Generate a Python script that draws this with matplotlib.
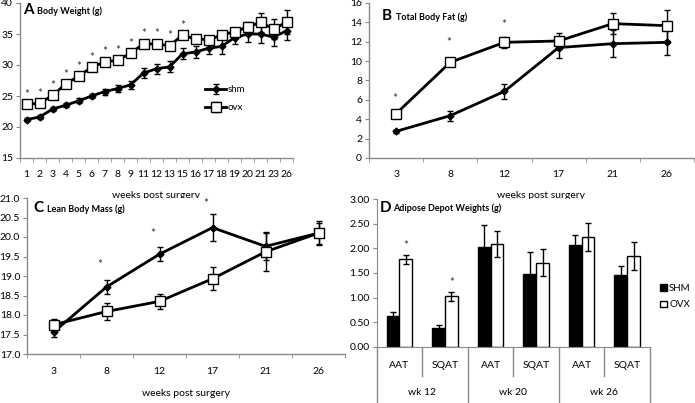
import numpy as np
import matplotlib.pyplot as plt
from matplotlib.transforms import offset_copy

plt.rcParams['font.family'] = ['Lato', 'DejaVu Sans']

# A: body weight
weeks_a = ['1', '2', '3', '4', '5', '6', '7', '8', '9', '11', '12', '13', '15', '16',
           '17', '18', '19', '20', '21', '23', '26']
shm_a = [21.2, 21.6, 22.9, 23.5, 24.2, 25.0, 25.7, 26.2, 26.8, 28.7, 29.4, 29.7, 31.8,
         32.1, 32.7, 33.0, 34.4, 35.0, 35.0, 34.5, 35.5]
shm_a_err = [0.2, 0.3, 0.3, 0.3, 0.4, 0.4, 0.5, 0.5, 0.6, 0.8, 0.8, 0.9, 0.9, 1.0,
             1.0, 1.2, 1.0, 1.3, 1.5, 1.4, 1.5]
ovx_a = [23.7, 23.8, 25.1, 26.9, 28.2, 29.6, 30.5, 30.75, 31.9, 33.4, 33.4, 33.1, 34.8,
         34.2, 34.1, 34.8, 35.4, 36.1, 36.9, 35.8, 36.9]
ovx_a_err = [0.3, 0.3, 0.4, 0.4, 0.4, 0.4, 0.4, 0.4, 0.4, 0.4, 0.4, 0.4, 0.4, 0.4,
             0.4, 0.5, 0.5, 0.8, 1.5, 1.6, 1.9]
stars_a = ['1', '2', '3', '4', '5', '6', '7', '8', '9', '11', '12', '13', '15']

# B / C: total body fat, lean mass
weeks_bc = ['3', '8', '12', '17', '21', '26']
shm_b = [2.75, 4.37, 6.88, 11.4, 11.8, 11.94]
shm_b_err = [0.15, 0.5, 0.75, 1.1, 1.4, 1.3]
ovx_b = [4.58, 9.88, 11.94, 12.08, 13.87, 13.66]
ovx_b_err = [0.1, 0.2, 0.55, 0.85, 1.1, 1.6]
stars_b = [6.1, 11.9, 13.8]

shm_c = [17.56, 18.72, 19.56, 20.24, 19.76, 20.1]
shm_c_err = [0.12, 0.18, 0.18, 0.35, 0.35, 0.27]
ovx_c = [17.75, 18.09, 18.35, 18.93, 19.62, 20.1]
ovx_c_err = [0.15, 0.22, 0.2, 0.3, 0.5, 0.3]
stars_c = [19.3, 20.1, 20.87]

# D: adipose depots
depots = ['AAT', 'SQAT', 'AAT', 'SQAT', 'AAT', 'SQAT']
depot_weeks = ['wk 12', 'wk 20', 'wk 26']
shm_d = [0.63, 0.38, 2.02, 1.48, 2.08, 1.46]
shm_d_err = [0.07, 0.07, 0.45, 0.44, 0.2, 0.19]
ovx_d = [1.78, 1.03, 2.09, 1.71, 2.23, 1.85]
ovx_d_err = [0.09, 0.09, 0.27, 0.27, 0.29, 0.29]
stars_d = [2.06, 1.3]

W, H = 695, 403
fig = plt.figure(figsize=(W / 100, H / 100), dpi=100)
grey = '#8a8a8a'


def px_axes(l, r, t, b):
    return fig.add_axes([l / W, 1 - b / H, (r - l) / W, (b - t) / H])


def style(ax, n):
    for s in ['top', 'right']:
        ax.spines[s].set_visible(False)
    for s in ['left', 'bottom']:
        ax.spines[s].set_color(grey)
        ax.spines[s].set_linewidth(1.0)
    ax.tick_params(axis='y', length=3, color=grey, labelsize=7.5, pad=2)
    ax.set_xlim(-0.5, n - 0.5)
    ax.set_xticks(np.arange(n))
    ax.set_xticks(np.arange(n + 1) - 0.5, minor=True)
    ax.tick_params(axis='x', which='major', length=0, labelsize=7.5, pad=9)
    ax.tick_params(axis='x', which='minor', length=3, color=grey)


def lines(ax, shm, shm_err, ovx, ovx_err, ms_sq=7):
    x = np.arange(len(shm))
    ax.errorbar(x, shm, yerr=shm_err, color='black', lw=2, marker='D', ms=3.5,
                capsize=2, elinewidth=1, capthick=1, label='shm', zorder=3)
    ax.errorbar(x, ovx, yerr=ovx_err, color='black', lw=2, marker='s', ms=ms_sq,
                mfc='white', mec='black', mew=1, capsize=2, elinewidth=1,
                capthick=1, label='ovx', zorder=4)


def title(ax, letter, text, x=0.03, y=0.97):
    ax.text(x, y, letter, transform=ax.transAxes, fontsize=11, fontweight='bold',
            va='top', ha='left')
    tr = offset_copy(ax.transAxes, fig=fig, x=14, y=-3, units='dots')
    ax.text(x, y, text, transform=tr, fontsize=6.5,
            fontweight='bold', va='top', ha='left')


def star(ax, x, y):
    ax.text(x, y, '*', ha='center', va='center', fontsize=8.5, color='#333333')


# ---- A
ax = px_axes(20, 293, 3, 158)
style(ax, len(weeks_a))
lines(ax, shm_a, shm_a_err, ovx_a, ovx_a_err)
ax.set_ylim(15, 40)
ax.set_yticks(range(15, 41, 5))
ax.set_xticklabels(weeks_a)
for w in stars_a:
    i = weeks_a.index(w)
    star(ax, i, ovx_a[i] + 1.6)
title(ax, 'A', 'Body Weight (g)', x=0.01, y=1.0)
ax.text(0.5, -0.245, 'weeks post surgery', transform=ax.transAxes, ha='center',
        va='center', fontsize=7.5)
ax.legend(loc='upper left', bbox_to_anchor=(0.66, 0.5), frameon=False, fontsize=7,
          handlelength=2.2, labelspacing=0.9, handletextpad=0.1, borderpad=0)

# ---- B
ax = px_axes(369, 694, 3, 158)
style(ax, len(weeks_bc))
lines(ax, shm_b, shm_b_err, ovx_b, ovx_b_err)
ax.set_ylim(0, 16)
ax.set_yticks(range(0, 17, 2))
ax.set_xticklabels(weeks_bc)
for i, v in enumerate(stars_b):
    star(ax, i - 0.02, v)
title(ax, 'B', 'Total Body Fat (g)', x=0.04, y=0.96)
ax.text(0.53, -0.245, 'weeks post surgery', transform=ax.transAxes, ha='center',
        va='center', fontsize=7.5)

# ---- C
ax = px_axes(27, 345, 198, 354)
style(ax, len(weeks_bc))
lines(ax, shm_c, shm_c_err, ovx_c, ovx_c_err)
ax.set_ylim(17, 21)
ax.set_yticks(np.arange(17, 21.01, 0.5))
ax.set_yticklabels(['%.1f' % v for v in np.arange(17, 21.01, 0.5)])
ax.set_xticklabels(weeks_bc)
for i, v in enumerate(stars_c):
    star(ax, i + 0.88, v)
title(ax, 'C', 'Lean Body Mass (g)', x=0.02, y=0.98)
ax.text(0.5, -0.25, 'weeks post surgery', transform=ax.transAxes, ha='center',
        va='center', fontsize=7.5)

# ---- D
ax = px_axes(376.7, 650, 199.3, 346.7)
for s in ['top', 'right']:
    ax.spines[s].set_visible(False)
for s in ['left', 'bottom']:
    ax.spines[s].set_color(grey)
ax.tick_params(axis='y', length=3, color=grey, labelsize=7.5, pad=2)
x = np.arange(len(depots))
bw = 0.28
ax.bar(x - bw / 2, shm_d, bw, color='black', edgecolor='black', lw=1, label='SHM',
       yerr=shm_d_err, error_kw=dict(elinewidth=1, capsize=2, capthick=1))
ax.bar(x + bw / 2, ovx_d, bw, color='white', edgecolor='black', lw=1, label='OVX',
       yerr=ovx_d_err, error_kw=dict(elinewidth=1, capsize=2, capthick=1))
for i, v in enumerate(stars_d):
    star(ax, i + bw / 2, v)
ax.set_xlim(-0.5, len(depots) - 0.5)
ax.set_ylim(0, 3)
ax.set_yticks(np.arange(0, 3.01, 0.5))
ax.set_yticklabels(['%.2f' % v for v in np.arange(0, 3.01, 0.5)])
ax.set_xticks([])
tr = ax.get_xaxis_transform()
for i, d in enumerate(depots):
    ax.text(i, -0.125, d, transform=tr, ha='center', va='center', fontsize=7.5)
for j, wk in enumerate(depot_weeks):
    ax.text(2 * j + 0.5, -0.31, wk, transform=tr, ha='center', va='center', fontsize=7.5)
for j in range(len(depots) + 1):
    bottom = -0.2 if j % 2 else -0.4
    ax.plot([j - 0.5, j - 0.5], [0, bottom], transform=tr, color=grey, lw=1,
            clip_on=False)
title(ax, 'D', 'Adipose Depot Weights (g)', x=0.01, y=0.99)
ax.legend(loc='center left', bbox_to_anchor=(1.02, 0.34), frameon=False, fontsize=7,
          handlelength=0.7, handleheight=0.7, labelspacing=0.8, handletextpad=0.2,
          borderpad=0)

fig.savefig('out.png', dpi=100)
